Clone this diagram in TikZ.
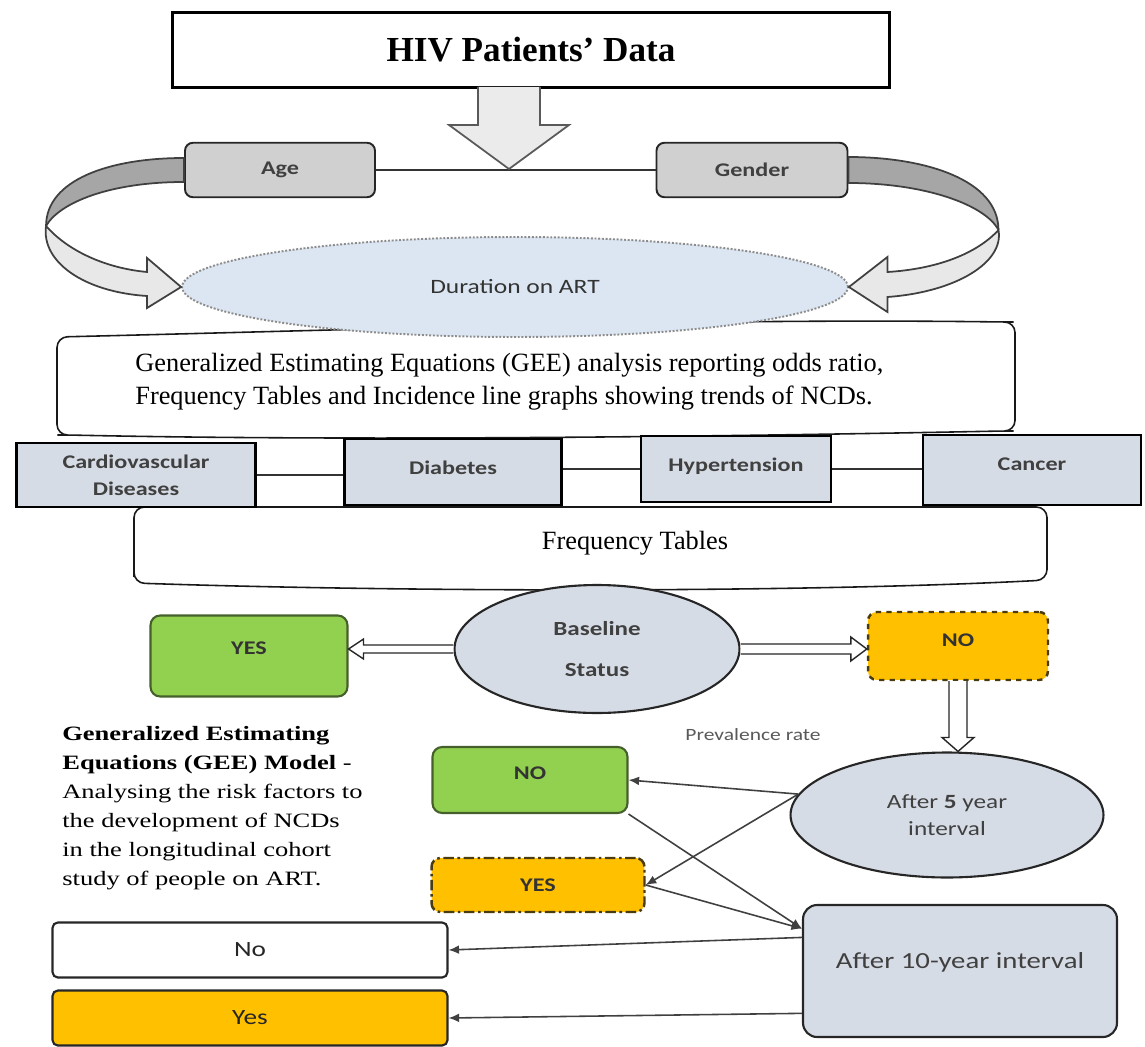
\documentclass[tikz,border=0pt]{standalone}
\usepackage{fontspec}
\setmainfont{Liberation Serif}
\newfontfamily\carlito[FakeStretch=1.25]{Carlito}
\newfontfamily\modelfont[FakeStretch=1.3]{Liberation Serif}
\usetikzlibrary{calc,arrows.meta,shapes.geometric,positioning}
\definecolor{boxgrey}{HTML}{D0D0D0}
\definecolor{ribdark}{HTML}{A6A6A6}
\definecolor{riblight}{HTML}{E8E8E8}
\definecolor{durblue}{HTML}{DCE6F2}
\definecolor{ncdblue}{HTML}{D6DCE5}
\definecolor{ygreen}{HTML}{92D050}
\definecolor{gborder}{HTML}{46602C}
\definecolor{yorange}{HTML}{FFC000}
\definecolor{oborder}{HTML}{4A3C10}
\tikzset{
    titlebox/.style={draw=black, line width=2pt, minimum width=14.34cm, minimum height=1.5cm,
        font=\bfseries\fontsize{20}{24}\selectfont},
    greybox/.style={draw=black!85, line width=1.1pt, fill=boxgrey, rounded corners=4.5pt,
        minimum height=1.09cm, text=black!75, font=\carlito\bfseries\fontsize{11}{13}\selectfont},
    durell/.style={ellipse, draw=black!45, densely dotted, line width=1.1pt, fill=durblue,
        minimum width=13.32cm, minimum height=2cm, text=black!80, font=\carlito\fontsize{11.6}{14}\selectfont},
    scrollbox/.style={draw=black!90, line width=0.9pt, fill=white, rounded corners=6pt},
    serifbig/.style={font=\fontsize{15}{19}\selectfont, align=left, inner sep=0pt},
    ncdbox/.style={draw=black, line width=1.6pt, fill=ncdblue, align=center, text=black!75,
        font=\carlito\bfseries\fontsize{11}{15.5}\selectfont},
    statell/.style={ellipse, draw=black!85, line width=1.2pt, fill=ncdblue, align=center, text=black!75},
    greenbox/.style={draw=gborder, line width=1.2pt, fill=ygreen, rounded corners=5.5pt,
        text=black!80, font=\carlito\bfseries\fontsize{11}{13}\selectfont},
    orangebox/.style={draw=oborder, line width=1.4pt, fill=yorange, rounded corners=5pt,
        text=black!80, font=\carlito\bfseries\fontsize{11}{13}\selectfont},
    plainbox/.style={draw=black!85, line width=1.2pt, rounded corners=3pt, minimum width=7.9cm,
        minimum height=1.1cm, text=black!85, font=\carlito\fontsize{12.4}{15}\selectfont},
    thinarrow/.style={draw=black!75, line width=0.9pt, -{Latex[length=6pt,width=5pt]}},
    hollow/.style={draw=black!85, line width=0.8pt, fill=white, line join=miter},
    bigarrow/.style={draw=black!65, line width=1pt, fill=black!8, line join=miter},
    ribbondark/.style={draw=black!75, line width=1pt, fill=ribdark, line join=round},
    ribbonlight/.style={draw=black!75, line width=1pt, fill=riblight, line join=miter}
}
\begin{document}
\begin{tikzpicture}[x=0.02cm,y=-0.02cm]
\useasboundingbox (0,0) rectangle (1145,1047);
\node[titlebox] (hiv) at (531,50) {HIV Patients’ Data};
\node[greybox, minimum width=3.8cm] (age) at (280,170) {Age};
\node[greybox, minimum width=3.82cm] (gen) at (752,170) {Gender};
\coordinate (tip) at (509,169);
\draw[line width=1pt, black!80] (age.east) -- (gen.west);
\draw[bigarrow] ($(tip)+(-31,-82)$) -- ++(0,38) -- ++(-29,0) -- (tip) -- ($(tip)+(60,-44)$) -- ++(-29,0) -- ++(0,-38);

\draw[scrollbox] (57,337) .. controls (350,330) and (700,318) .. (1003,322) -- (1015,322) -- (1015,431) -- (1003,431)
    .. controls (700,437) and (350,441) .. (68,435) -- (57,435) -- cycle;
\node[serifbig, anchor=west] (gee) at (135,382) {Generalized Estimating Equations (GEE) analysis reporting odds ratio,\\
    Frequency Tables and Incidence line graphs showing trends of NCDs.};
\node[durell] (dur) at (515,287) {Duration on ART};

\begin{scope}[shift={(age.west)}]
\draw[ribbondark] (0,-12) .. controls (-75,-12) and (-138,10) .. (-138,56) .. controls (-125,33) and (-75,12) .. (0,12) -- cycle;
\draw[ribbonlight] (-138,56) .. controls (-117,80) and (-80,98) .. (-37,102) -- (-37,88) -- (dur.west) -- (-37,138) -- (-37,126)
    .. controls (-100,122) and (-143,92) .. (-138,56) -- cycle;
\end{scope}
\begin{scope}[shift={(gen.east)}]
\draw[ribbondark] (0,-13) .. controls (77,-13) and (150,10) .. (150,60) .. controls (137,35) and (77,13) .. (0,13) -- cycle;
\draw[ribbonlight] (150,60) .. controls (128,84) and (88,99) .. (39,102) -- (39,87) -- (dur.east) -- (39,142) -- (39,127)
    .. controls (108,122) and (156,92) .. (150,60) -- cycle;
\end{scope}

\draw[scrollbox] (134,583) -- (134,507) -- (1047,507) -- (1047,580) .. controls (800,593) and (400,592) .. cycle;
\node[serifbig] (freq) at (635,543) {Frequency Tables};
\node[ncdbox, minimum width=4.78cm, minimum height=1.28cm] (cvd) at (136,475) {Cardiovascular\\Diseases};
\node[ncdbox, minimum width=4.34cm, minimum height=1.32cm, text depth=5pt] (dia) at (453,472) {Diabetes};
\node[ncdbox, minimum width=3.8cm, minimum height=1.32cm, text depth=5pt] (hyp) at (736,469) {Hypertension};
\node[ncdbox, minimum width=4.36cm, minimum height=1.4cm, text depth=7pt] (can) at (1032,470) {Cancer};
\draw[line width=1.2pt, black!80] (cvd.east) -- (cvd.east -| dia.west);
\draw[line width=1.2pt, black!80] (dia.east |- hyp.west) -- (hyp.west);
\draw[line width=1.2pt, black!80] (hyp.east) -- (hyp.east -| can.west);

\node[statell, minimum width=5.7cm, minimum height=2.56cm, font=\carlito\bfseries\fontsize{11.4}{23}\selectfont] (base) at (597,649) {Baseline\\Status};
\node[greenbox, minimum width=3.94cm, minimum height=1.62cm, text depth=9pt] (yes1) at (249,656) {YES};
\node[orangebox, dashed, minimum width=3.6cm, minimum height=1.36cm, text depth=7pt] (no1) at (958,646) {NO};
\node[text=black!65, font=\carlito\fontsize{9.8}{12}\selectfont] (prev) at (753,735) {Prevalence rate};
\node[statell, minimum width=6.26cm, minimum height=2.5cm, font=\carlito\fontsize{11.5}{15.5}\selectfont] (five) at (947,815) {After {\bfseries 5} year\\interval};
\node[greenbox, minimum width=3.9cm, minimum height=1.32cm, text depth=8pt] (no2) at (530,780) {NO};
\node[orangebox, dash pattern=on 6pt off 2pt on 1.5pt off 2pt, minimum width=4.26cm, minimum height=1.08cm] (yes2) at (538,885) {YES};
\node[anchor=north west, align=left, inner sep=0pt, font=\modelfont\fontsize{11.6}{16.5}\selectfont] (model) at (62,726)
    {\bfseries Generalized Estimating\\\bfseries Equations (GEE) Model \mdseries -\\Analysing the risk factors to\\
    the development of NCDs\\in the longitudinal cohort\\study of people on ART.};
\node[statell, rectangle, rounded corners=8pt, minimum width=6.28cm, minimum height=2.64cm, text depth=12pt,
    font=\carlito\fontsize{13.1}{16}\selectfont] (ten) at (960,971) {After 10-year interval};
\node[plainbox] (nobox) at (250,950) {No};
\node[plainbox, fill=yorange] (yesbox) at (250,1018) {Yes};

\draw[hollow] ($(base.west)+(0,-4)$) -- ($(yes1.east|-base.west)+(15,-4)$) -- ++(0,-6) -- (yes1.east|-base.west)
    -- ($(yes1.east|-base.west)+(15,10)$) -- ++(0,-6) -- ($(base.west)+(0,4)$);
\draw[hollow] ($(base.east)+(0,-5)$) -- ($(no1.west|-base.east)+(-16,-5)$) -- ++(0,-7) -- (no1.west|-base.east)
    -- ($(no1.west|-base.east)+(-16,12)$) -- ++(0,-7) -- ($(base.east)+(0,5)$);
\draw[hollow] ($(no1.south)+(-9,0)$) -- ($(no1.south|-five.north)+(-9,-14)$) -- ++(-7,0) -- (no1.south|-five.north)
    -- ($(no1.south|-five.north)+(16,-14)$) -- ++(-7,0) -- ($(no1.south)+(9,0)$);

\draw[thinarrow] (five.172) -- (no2.east);
\draw[thinarrow] (five.172) -- (yes2.east);
\draw[thinarrow] (no2.south east) -- (ten.165);
\draw[thinarrow] (yes2.east) -- (ten.165);
\draw[thinarrow] (ten.168) -- (nobox.east);
\draw[thinarrow] (ten.195) -- (yesbox.east);
\end{tikzpicture}
\end{document}
